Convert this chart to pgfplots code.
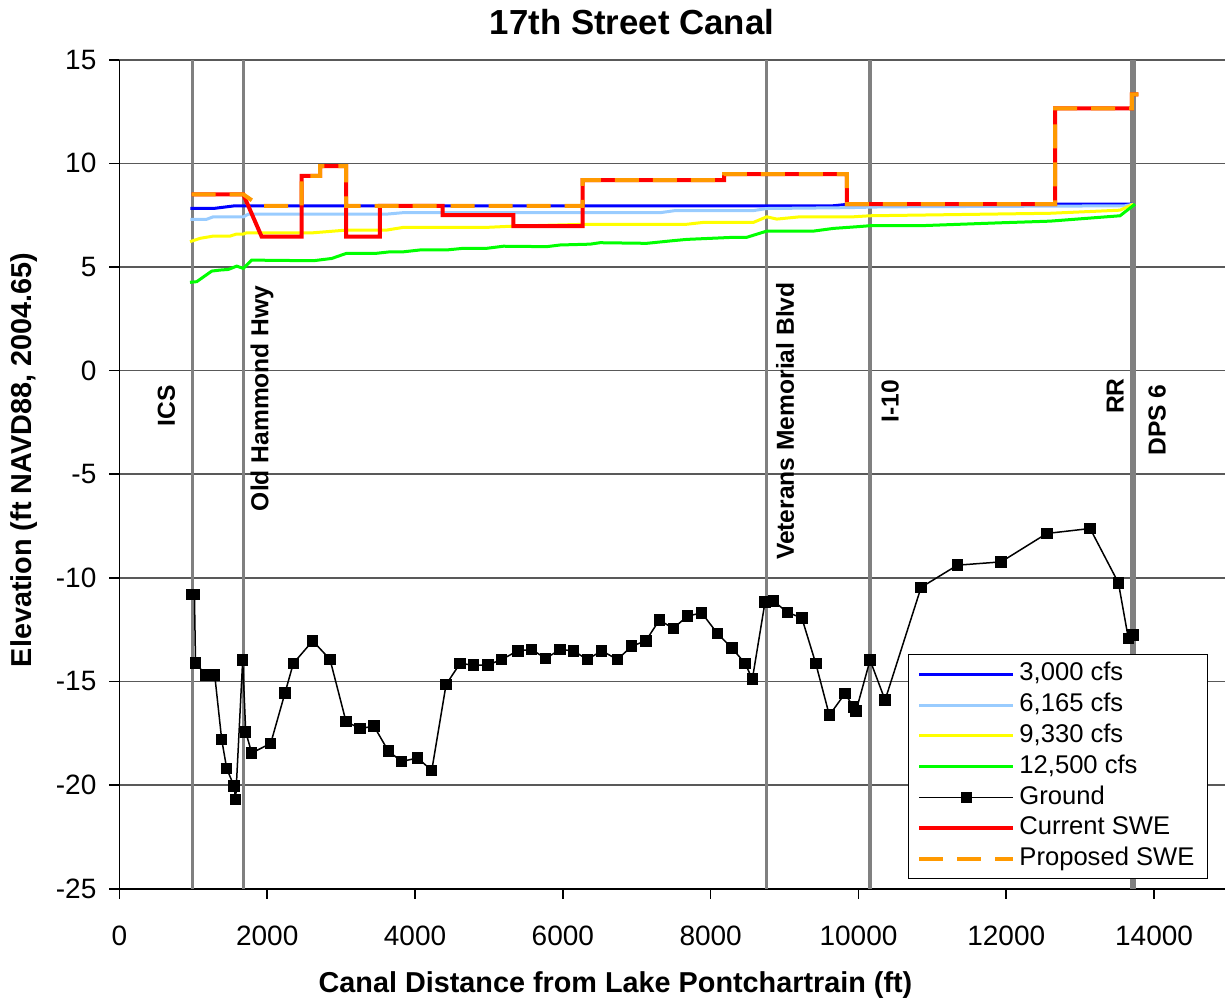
\documentclass[border=0pt]{standalone}
\usepackage{pgfplots}
\pgfplotsset{compat=1.18}
\usepackage{fontspec}
\setmainfont{Liberation Sans}

\definecolor{flowA}{RGB}{0,0,255}
\definecolor{flowB}{RGB}{153,204,255}
\definecolor{flowC}{RGB}{255,255,0}
\definecolor{flowD}{RGB}{0,255,0}
\definecolor{swecur}{RGB}{255,0,0}
\definecolor{sweprop}{RGB}{255,153,0}
\definecolor{refline}{RGB}{128,128,128}

\begin{document}
\begin{tikzpicture}
\begin{axis}[
  scale only axis,
  width=554.3pt, height=414.5pt,
  xmin=0, xmax=15000, ymin=-25, ymax=15,
  xtick={0,2000,...,14000},
  ytick={-25,-20,...,15},
  scaled x ticks=false,
  axis x line*=bottom, axis y line*=left,
  axis line style={black, line width=0.8pt},
  tick align=outside,
  major tick length=5pt,
  tick style={black, line width=0.8pt},
  ymajorgrids,
  major grid style={black!65, line width=0.8pt},
  /pgf/number format/assume math mode=true,
  /pgf/number format/set thousands separator={},
  ticklabel style={font=\fontsize{14}{16}\selectfont},
  xticklabel style={yshift=-10pt},
  yticklabel style={xshift=-3pt},
  title={\textbf{17th Street Canal}},
  every axis title/.style={at={(axis description cs:0.4624,1)}, yshift=18.9pt, anchor=center, font=\fontsize{17.4}{20}\selectfont},
  xlabel={\textbf{Canal Distance from Lake Pontchartrain (ft)}},
  ylabel={\textbf{Elevation (ft NAVD88, 2004.65)}},
  every axis x label/.style={at={(axis description cs:0.4475,0)}, yshift=-48.2pt, anchor=center, font=\fontsize{14.4}{17}\selectfont},
  every axis y label/.style={at={(axis description cs:0,0.517)}, xshift=-47.7pt, rotate=90, anchor=center, font=\fontsize{14.4}{17}\selectfont},
  legend cell align=left,
  legend image code/.code={\draw[mark repeat=2,mark phase=2,#1] plot coordinates {(0pt,0pt) (23.5pt,0pt) (47pt,0pt)};},
  legend style={at={(0.982,0.0117)}, anchor=south east, draw=black, line width=0.6pt,
    font=\fontsize{12.8}{15}\selectfont,
    nodes={text height=9.6pt, text depth=3pt, inner ysep=1.4pt},
    inner xsep=4.5pt, inner ysep=2pt},
]
% bridges and structures along the canal
\addplot[refline, line width=1.6pt, forget plot] coordinates {(986,-25) (986,15)};
\addplot[refline, line width=1.6pt, forget plot] coordinates {(1677,-25) (1677,15)};
\addplot[refline, line width=1.6pt, forget plot] coordinates {(8759,-25) (8759,15)};
\addplot[refline, line width=1.6pt, forget plot] coordinates {(10157,-25) (10157,15)};
\addplot[refline, line width=1.8pt, forget plot] coordinates {(13698,-25) (13698,15)};
\addplot[refline, line width=1.8pt, forget plot] coordinates {(13735,-25) (13735,15)};

% water surface profiles
\addplot[flowA, line width=1.5pt] coordinates {
 (960,7.83) (1290,7.83) (1560,7.95) (9650,7.95) (9880,8.03) (13720,8.03)};
\addlegendentry{3,000 cfs}
\addplot[flowB, line width=1.5pt] coordinates {
 (960,7.3) (1180,7.3) (1270,7.42) (1680,7.42) (1745,7.55) (3620,7.55) (3840,7.62)
 (7320,7.62) (7520,7.72) (8580,7.72) (8760,7.82) (9840,7.86) (10340,7.9)
 (13600,7.95) (13720,8.03)};
\addlegendentry{6,165 cfs}
\addplot[flowC, line width=1.5pt] coordinates {
 (955,6.22) (1090,6.38) (1271,6.49) (1497,6.49) (1587,6.59) (1677,6.59) (1722,6.65)
 (2624,6.65) (3075,6.78) (3617,6.78) (3842,6.91) (4970,6.91) (5330,6.97)
 (6323,7.06) (7677,7.06) (7901,7.15) (8578,7.15) (8759,7.42) (8895,7.31)
 (9209,7.42) (9931,7.42) (10157,7.47) (12592,7.59) (13539,7.74) (13720,8.03)};
\addlegendentry{9,330 cfs}
\addplot[flowD, line width=1.5pt] coordinates {
 (955,4.26) (1046,4.29) (1249,4.8) (1361,4.85) (1474,4.88) (1587,5.04) (1677,4.93)
 (1790,5.33) (2624,5.3) (2873,5.41) (3075,5.66) (3481,5.66) (3661,5.73) (3842,5.73)
 (4067,5.82) (4428,5.82) (4654,5.9) (4970,5.9) (5195,6.0) (5782,5.98) (5962,6.06)
 (6368,6.1) (6503,6.17) (7135,6.14) (7495,6.27) (7677,6.33) (8308,6.43) (8488,6.43)
 (8759,6.73) (9390,6.73) (9661,6.86) (9977,6.94) (10157,6.99) (10833,6.99)
 (11916,7.13) (12592,7.21) (13539,7.47) (13742,8.03)};
\addlegendentry{12,500 cfs}

% canal bottom
\addplot[black, line width=0.75pt, mark=square*, mark size=2.5pt, mark options={solid, fill=black}] coordinates {
 (980,-10.8) (1015,-10.8) (1030,-14.1) (1170,-14.7) (1290,-14.7) (1384,-17.8)
 (1452,-19.2) (1551,-20.05) (1573,-20.7) (1668,-13.97) (1709,-17.43) (1790,-18.45)
 (2047,-17.99) (2241,-15.55) (2353,-14.13) (2616,-13.04) (2850,-13.94) (3066,-16.93)
 (3256,-17.27) (3445,-17.16) (3639,-18.36) (3820,-18.86) (4036,-18.69) (4226,-19.3)
 (4420,-15.15) (4609,-14.13) (4789,-14.21) (4984,-14.21) (5173,-13.94) (5390,-13.52)
 (5579,-13.46) (5768,-13.89) (5962,-13.46) (6142,-13.52) (6331,-13.94) (6526,-13.52)
 (6738,-13.94) (6932,-13.3) (7122,-13.04) (7306,-12.04) (7495,-12.44) (7684,-11.85)
 (7879,-11.69) (8090,-12.68) (8286,-13.38) (8466,-14.13) (8564,-14.89) (8736,-11.16)
 (8849,-11.11) (9038,-11.67) (9233,-11.93) (9422,-14.13) (9606,-16.63) (9818,-15.58)
 (9931,-16.23) (9967,-16.42) (10157,-13.97) (10360,-15.9) (10847,-10.46) (11338,-9.39)
 (11930,-9.23) (12548,-7.86) (13134,-7.62) (13517,-10.24) (13652,-12.93) (13712,-12.77)};
\addlegendentry{Ground}

% still water elevations
\addplot[swecur, line width=2pt] coordinates {
 (978,8.5) (1677,8.5) (1925,6.46) (2467,6.46) (2467,9.39) (2715,9.39) (2715,9.87)
 (3066,9.87) (3066,6.46) (3526,6.46) (3526,7.95) (4374,7.95) (4374,7.5) (5330,7.5)
 (5330,6.97) (6269,6.97) (6269,9.19) (8181,9.19) (8181,9.48) (9842,9.48) (9842,8.03)
 (12660,8.03) (12660,12.65) (13698,12.65) (13698,13.33) (13788,13.33)};
\addlegendentry{Current SWE}
\addplot[sweprop, line width=2pt, dash pattern=on 12pt off 7pt] coordinates {
 (978,8.5) (1677,8.5) (1900,7.95) (2467,7.95) (2467,9.39) (2715,9.39) (2715,9.87)
 (3066,9.87) (3066,7.95) (6269,7.95) (6269,9.19) (8181,9.19) (8181,9.48) (9842,9.48)
 (9842,8.03) (12660,8.03) (12660,12.65) (13698,12.65) (13698,13.33) (13788,13.33)};
\addlegendentry{Proposed SWE}

% labels of the structures
\begin{scope}[every node/.style={rotate=90, anchor=center, font=\fontsize{12.3}{14}\selectfont\bfseries, inner sep=0pt}]
\node at (axis cs:635,-1.69) {ICS};
\node at (axis cs:1930,-1.34) {Old Hammond Hwy};
\node at (axis cs:9007,-2.44) {Veterans Memorial Blvd};
\node at (axis cs:10428,-1.46) {I-10};
\node at (axis cs:13473,-1.23) {RR};
\node at (axis cs:14040,-2.39) {DPS 6};
\end{scope}

\coordinate (bl) at (rel axis cs:0,0);
\end{axis}
\pgfresetboundingbox
\path[use as bounding box] ([xshift=-59.7pt,yshift=-57.15pt]bl) rectangle ([xshift=552.8pt,yshift=444.35pt]bl);
\end{tikzpicture}
\end{document}
